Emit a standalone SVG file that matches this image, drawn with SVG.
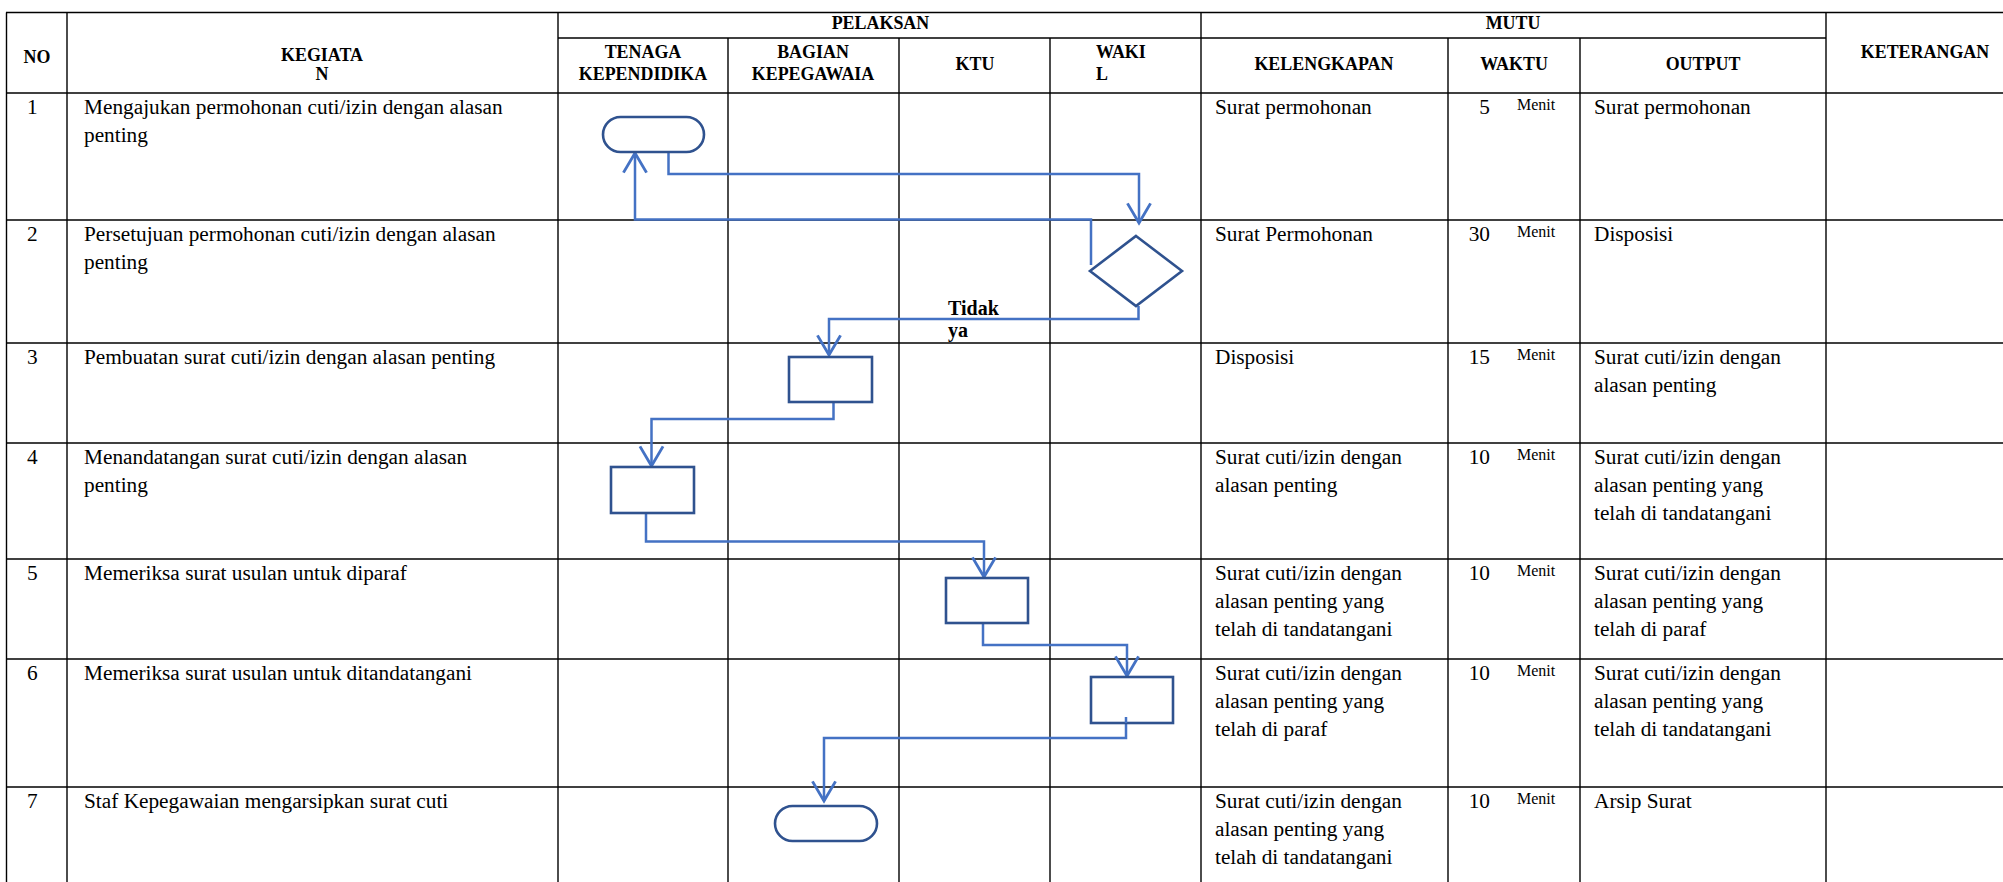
<svg xmlns="http://www.w3.org/2000/svg" width="2003" height="882" viewBox="0 0 2003 882">
<style>
.grid{stroke:#000;stroke-width:1.4;fill:none}
.h{font-family:"Liberation Serif","Times New Roman",serif;font-weight:bold;font-size:19.5px;fill:#000}
.t{font-family:"Liberation Serif","Times New Roman",serif;font-size:21.3px;fill:#000}
.m{font-family:"Liberation Serif","Times New Roman",serif;font-size:16px;fill:#000}
.lbl{font-family:"Liberation Serif","Times New Roman",serif;font-weight:bold;font-size:20px;fill:#000}
.shape{fill:#fff;stroke:#2F528F;stroke-width:2.6}
.conn{fill:none;stroke:#4472C4;stroke-width:2.5}
</style>
<defs>
<marker id="arr" markerUnits="userSpaceOnUse" markerWidth="30" markerHeight="30" viewBox="-20 -13 24 26" refX="0" refY="0" orient="auto" overflow="visible">
<path d="M-17,-10 L0,0 L-17,10" fill="none" stroke="#4472C4" stroke-width="2.5"/>
</marker>
</defs>
<rect x="0" y="0" width="2003" height="882" fill="#fff"/>
<g id="table" class="grid">
<line x1="6" y1="12.5" x2="2003" y2="12.5"/>
<line x1="558" y1="38" x2="1826" y2="38"/>
<line x1="6" y1="93" x2="2003" y2="93"/>
<line x1="6" y1="220" x2="2003" y2="220"/>
<line x1="6" y1="343" x2="2003" y2="343"/>
<line x1="6" y1="443" x2="2003" y2="443"/>
<line x1="6" y1="559" x2="2003" y2="559"/>
<line x1="6" y1="659" x2="2003" y2="659"/>
<line x1="6" y1="787" x2="2003" y2="787"/>
<line x1="6.5" y1="12.5" x2="6.5" y2="882"/>
<line x1="67" y1="12.5" x2="67" y2="882"/>
<line x1="558" y1="12.5" x2="558" y2="882"/>
<line x1="728" y1="38" x2="728" y2="882"/>
<line x1="899" y1="38" x2="899" y2="882"/>
<line x1="1050" y1="38" x2="1050" y2="882"/>
<line x1="1201" y1="12.5" x2="1201" y2="882"/>
<line x1="1448" y1="38" x2="1448" y2="882"/>
<line x1="1580" y1="38" x2="1580" y2="882"/>
<line x1="1826" y1="12.5" x2="1826" y2="882"/>
</g>
<g id="header" transform="scale(0.92 1)">
<text class="h" x="40.2" y="63" text-anchor="middle">NO</text>
<text class="h" x="350" y="61" text-anchor="middle">KEGIATA</text>
<text class="h" x="350" y="80" text-anchor="middle">N</text>
<text class="h" x="957" y="29" text-anchor="middle">PELAKSAN</text>
<text class="h" x="1644.6" y="29" text-anchor="middle">MUTU</text>
<text class="h" x="698.9" y="58" text-anchor="middle">TENAGA</text>
<text class="h" x="698.9" y="80" text-anchor="middle">KEPENDIDIKA</text>
<text class="h" x="883.7" y="58" text-anchor="middle">BAGIAN</text>
<text class="h" x="883.7" y="80" text-anchor="middle">KEPEGAWAIA</text>
<text class="h" x="1059.8" y="70" text-anchor="middle">KTU</text>
<text class="h" x="1191.3" y="58">WAKI</text>
<text class="h" x="1191.3" y="80">L</text>
<text class="h" x="1439.1" y="70" text-anchor="middle">KELENGKAPAN</text>
<text class="h" x="1645.7" y="70" text-anchor="middle">WAKTU</text>
<text class="h" x="1851.1" y="70" text-anchor="middle">OUTPUT</text>
<text class="h" x="2092.4" y="58" text-anchor="middle">KETERANGAN</text>
</g>
<g id="rows">
<text class="t" x="27" y="114">1</text>
<text class="t" x="84" y="114">Mengajukan permohonan cuti/izin dengan alasan</text>
<text class="t" x="84" y="142">penting</text>
<text class="t" x="1215" y="114">Surat permohonan</text>
<text class="t" x="1490" y="114" text-anchor="end">5</text>
<text class="m" x="1517" y="110">Menit</text>
<text class="t" x="1594" y="114">Surat permohonan</text>

<text class="t" x="27" y="241">2</text>
<text class="t" x="84" y="241">Persetujuan permohonan cuti/izin dengan alasan</text>
<text class="t" x="84" y="269">penting</text>
<text class="t" x="1215" y="241">Surat Permohonan</text>
<text class="t" x="1490" y="241" text-anchor="end">30</text>
<text class="m" x="1517" y="237">Menit</text>
<text class="t" x="1594" y="241">Disposisi</text>

<text class="t" x="27" y="364">3</text>
<text class="t" x="84" y="364">Pembuatan surat cuti/izin dengan alasan penting</text>
<text class="t" x="1215" y="364">Disposisi</text>
<text class="t" x="1490" y="364" text-anchor="end">15</text>
<text class="m" x="1517" y="360">Menit</text>
<text class="t" x="1594" y="364">Surat cuti/izin dengan</text>
<text class="t" x="1594" y="392">alasan penting</text>

<text class="t" x="27" y="464">4</text>
<text class="t" x="84" y="464">Menandatangan surat cuti/izin dengan alasan</text>
<text class="t" x="84" y="492">penting</text>
<text class="t" x="1215" y="464">Surat cuti/izin dengan</text>
<text class="t" x="1215" y="492">alasan penting</text>
<text class="t" x="1490" y="464" text-anchor="end">10</text>
<text class="m" x="1517" y="460">Menit</text>
<text class="t" x="1594" y="464">Surat cuti/izin dengan</text>
<text class="t" x="1594" y="492">alasan penting yang</text>
<text class="t" x="1594" y="520">telah di tandatangani</text>

<text class="t" x="27" y="580">5</text>
<text class="t" x="84" y="580">Memeriksa surat usulan untuk diparaf</text>
<text class="t" x="1215" y="580">Surat cuti/izin dengan</text>
<text class="t" x="1215" y="608">alasan penting yang</text>
<text class="t" x="1215" y="636">telah di tandatangani</text>
<text class="t" x="1490" y="580" text-anchor="end">10</text>
<text class="m" x="1517" y="576">Menit</text>
<text class="t" x="1594" y="580">Surat cuti/izin dengan</text>
<text class="t" x="1594" y="608">alasan penting yang</text>
<text class="t" x="1594" y="636">telah di paraf</text>

<text class="t" x="27" y="680">6</text>
<text class="t" x="84" y="680">Memeriksa surat usulan untuk ditandatangani</text>
<text class="t" x="1215" y="680">Surat cuti/izin dengan</text>
<text class="t" x="1215" y="708">alasan penting yang</text>
<text class="t" x="1215" y="736">telah di paraf</text>
<text class="t" x="1490" y="680" text-anchor="end">10</text>
<text class="m" x="1517" y="676">Menit</text>
<text class="t" x="1594" y="680">Surat cuti/izin dengan</text>
<text class="t" x="1594" y="708">alasan penting yang</text>
<text class="t" x="1594" y="736">telah di tandatangani</text>

<text class="t" x="27" y="808">7</text>
<text class="t" x="84" y="808">Staf Kepegawaian mengarsipkan surat cuti</text>
<text class="t" x="1215" y="808">Surat cuti/izin dengan</text>
<text class="t" x="1215" y="836">alasan penting yang</text>
<text class="t" x="1215" y="864">telah di tandatangani</text>
<text class="t" x="1490" y="808" text-anchor="end">10</text>
<text class="m" x="1517" y="804">Menit</text>
<text class="t" x="1594" y="808">Arsip Surat</text>
</g>
<g id="connectors">
<path class="conn" d="M668.5,152 V174 H1139 V223" marker-end="url(#arr)"/>
<path class="conn" d="M1091,265 V219.5 H635 V153" marker-end="url(#arr)"/>
<path class="conn" d="M1138.5,306 V319 H829 V355" marker-end="url(#arr)"/>
<path class="conn" d="M833.5,402 V419 H651.5 V466" marker-end="url(#arr)"/>
<path class="conn" d="M646,513 V541.5 H984 V577" marker-end="url(#arr)"/>
<path class="conn" d="M983,623 V645 H1127 V676" marker-end="url(#arr)"/>
<path class="conn" d="M1126,717 V738 H824 V801" marker-end="url(#arr)"/>
<text class="lbl" x="948" y="315">Tidak</text>
<text class="lbl" x="948" y="337">ya</text>
</g>
<g id="n1"><rect class="shape" x="603" y="117" width="101" height="35" rx="17.5" ry="17.5"/></g>
<g id="n2"><path class="shape" d="M1136,236 L1182,271 L1136,306 L1090,271 Z"/></g>
<g id="n3"><rect class="shape" x="789" y="357" width="83" height="45"/></g>
<g id="n4"><rect class="shape" x="611" y="467" width="83" height="46"/></g>
<g id="n5"><rect class="shape" x="946" y="578" width="82" height="45"/></g>
<g id="n6"><rect class="shape" x="1091" y="677" width="82" height="46"/></g>
<g id="n7"><rect class="shape" x="775" y="806" width="102" height="35" rx="17.5" ry="17.5"/></g>
<path class="conn" d="M1126,717 V723"/>
</svg>
